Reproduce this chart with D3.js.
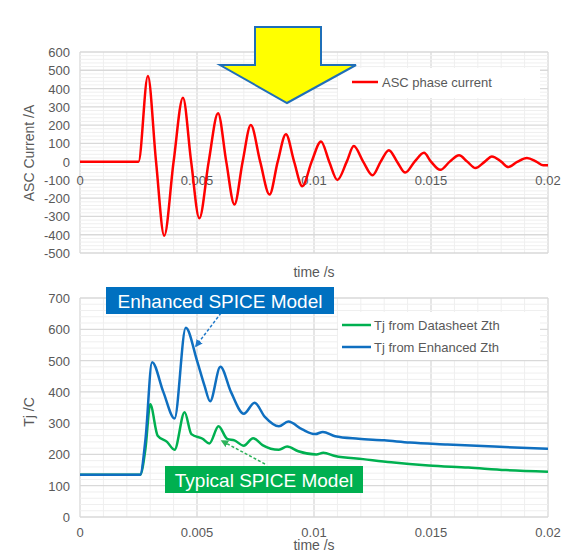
<!DOCTYPE html>
<html><head><meta charset="utf-8">
<script src="https://cdn.jsdelivr.net/npm/d3@7"></script>
<style>body{margin:0;background:#fff}svg{font-family:"Liberation Sans",Arial,sans-serif}</style>
</head><body><div id="chart"></div>
<script>
// [time s, value]
const ascCurrent = [[0,0],[0.0025,0],[0.0029,468],[0.00325,0],[0.0036,-405],[0.0040,0],[0.0044,350],[0.00475,0],[0.0051,-310],[0.0055,0],[0.0059,265],[0.00625,0],[0.0066,-235],[0.00695,0],[0.0073,200],[0.0077,0],[0.0081,-180],[0.00845,0],[0.0088,150],[0.00915,0],[0.0095,-135],[0.0099,0],[0.0103,110],[0.01065,0],[0.0110,-100],[0.0114,0],[0.0117,85],[0.0121,0],[0.0125,-75],[0.01285,0],[0.0132,62],[0.01355,0],[0.0139,-60],[0.0143,0],[0.0147,48],[0.0150,0],[0.0154,-45],[0.0158,0],[0.0162,35],[0.01655,0],[0.0169,-35],[0.0173,0],[0.0176,28],[0.0180,0],[0.0183,-30],[0.0187,0],[0.0191,20],[0.0195,0],[0.0198,-20],[0.02,-20]];
const tjEnhanced = [[0,135],[0.00257,135],[0.0028,250],[0.00308,495],[0.00356,400],[0.00404,315],[0.00452,605],[0.0050,500],[0.00532,420],[0.00556,370],[0.0060,480],[0.00645,400],[0.0070,330],[0.00746,365],[0.0079,320],[0.0085,290],[0.0089,305],[0.0095,280],[0.01005,265],[0.01038,272],[0.0109,258],[0.0119,250],[0.0130,245],[0.0141,238],[0.0157,232],[0.0177,225],[0.02,218]];
const tjDatasheet = [[0,135],[0.00257,135],[0.0028,220],[0.0030,360],[0.00332,260],[0.00372,240],[0.00404,215],[0.00447,335],[0.00476,265],[0.00524,250],[0.00553,235],[0.00592,290],[0.00629,250],[0.0066,245],[0.0070,228],[0.0074,252],[0.0078,230],[0.0085,215],[0.00885,225],[0.00933,210],[0.0101,200],[0.0104,205],[0.0109,195],[0.0121,185],[0.0133,175],[0.0149,165],[0.0166,158],[0.0182,150],[0.02,145]];
const xTicks = [0,0.005,0.01,0.015,0.02];
const topYTicks = [-500,-400,-300,-200,-100,0,100,200,300,400,500,600];
const botYTicks = [0,100,200,300,400,500,600,700];

const svg = d3.select('#chart').append('svg').attr('width',584).attr('height',557);
const grey = '#595959';

function grid(g, x, y, yMin, yMax) {
    g.selectAll('.vm').data(d3.range(0,0.02001,0.001)).enter().append('line')
        .attr('x1',d=>x(d)).attr('x2',d=>x(d)).attr('y1',y(yMin)).attr('y2',y(yMax))
        .attr('stroke',(d,i)=>i%5===0?'#d9d9d9':'#efefef').attr('stroke-width',(d,i)=>i%5===0?1.3:1);
    g.selectAll('.hm').data(d3.range(yMin,yMax+1,20)).enter().append('line')
        .attr('x1',x(0)).attr('x2',x(0.02)).attr('y1',d=>y(d)).attr('y2',d=>y(d))
        .attr('stroke',d=>d%100===0?'#d9d9d9':'#efefef').attr('stroke-width',d=>d%100===0?1.3:1);
}

// ---- top chart
const x1 = d3.scaleLinear().domain([0,0.02]).range([80,548]);
const y1 = d3.scaleLinear().domain([-500,600]).range([253,52]);
const topG = svg.append('g');
grid(topG, x1, y1, -500, 600);
topG.selectAll('.yt').data(topYTicks).enter().append('text')
    .attr('x',70).attr('y',d=>y1(d)+5).attr('text-anchor','end').attr('font-size',13).attr('fill',grey).text(d=>d);
topG.selectAll('.xt').data(xTicks).enter().append('text')
    .attr('x',x1).attr('y',y1(0)+23).attr('text-anchor','middle').attr('font-size',13).attr('fill',grey).text(d=>d);
topG.append('path').datum(ascCurrent).attr('fill','none').attr('stroke','#ff0000').attr('stroke-width',2.5)
    .attr('d',d3.line().x(d=>x1(d[0])).y(d=>y1(d[1])).curve(d3.curveMonotoneX));
topG.append('text').attr('transform','translate(34,153) rotate(-90)').attr('text-anchor','middle')
    .attr('font-size',14).attr('fill',grey).text('ASC Current /A');
topG.append('text').attr('x',314).attr('y',277).attr('text-anchor','middle').attr('font-size',14).attr('fill',grey).text('time /s');
topG.append('rect').attr('x',338).attr('y',68).attr('width',202).attr('height',30).attr('fill','#fff');
topG.append('line').attr('x1',352).attr('x2',378).attr('y1',82).attr('y2',82).attr('stroke','#ff0000').attr('stroke-width',2.5);
topG.append('text').attr('x',382).attr('y',87).attr('font-size',13).attr('fill',grey).text('ASC phase current');
// yellow arrow
topG.append('path').attr('d','M255,27 L321,27 L321,65 L356,65 L287,103 L220,65 L255,65 Z')
    .attr('fill','#ffff00').attr('stroke','#1f6fb8').attr('stroke-width',2);

// ---- bottom chart
const x2 = d3.scaleLinear().domain([0,0.02]).range([80,548]);
const y2 = d3.scaleLinear().domain([0,700]).range([517,298]);
const bot = svg.append('g');
grid(bot, x2, y2, 0, 700);
bot.selectAll('.yt').data(botYTicks).enter().append('text')
    .attr('x',70).attr('y',d=>y2(d)+5).attr('text-anchor','end').attr('font-size',13).attr('fill',grey).text(d=>d);
bot.selectAll('.xt').data(xTicks).enter().append('text')
    .attr('x',x2).attr('y',537).attr('text-anchor','middle').attr('font-size',13).attr('fill',grey).text(d=>d);
const line2 = d3.line().x(d=>x2(d[0])).y(d=>y2(d[1])).curve(d3.curveMonotoneX);
bot.append('path').datum(tjDatasheet).attr('fill','none').attr('stroke','#00b050').attr('stroke-width',2.5).attr('d',line2);
bot.append('path').datum(tjEnhanced).attr('fill','none').attr('stroke','#0f6fc0').attr('stroke-width',2.5).attr('d',line2);
bot.append('text').attr('transform','translate(34,412) rotate(-90)').attr('text-anchor','middle')
    .attr('font-size',14).attr('fill',grey).text('Tj /C');
bot.append('text').attr('x',314).attr('y',550).attr('text-anchor','middle').attr('font-size',14).attr('fill',grey).text('time /s');
bot.append('rect').attr('x',338).attr('y',312).attr('width',202).attr('height',48).attr('fill','#fff');
[['Tj from Datasheet Zth','#00b050',325],['Tj from Enhanced Zth','#0f6fc0',347]].forEach(([t,c,yy])=>{
    bot.append('line').attr('x1',342).attr('x2',371).attr('y1',yy).attr('y2',yy).attr('stroke',c).attr('stroke-width',2.5);
    bot.append('text').attr('x',374).attr('y',yy+5).attr('font-size',13).attr('fill',grey).text(t);
});
// annotations
const defs = svg.append('defs');
[['ab','#1f78c8'],['ag','#2db35a']].forEach(([id,c])=>{
    defs.append('marker').attr('id',id).attr('viewBox','0 0 10 10').attr('refX',8).attr('refY',5)
        .attr('markerWidth',5).attr('markerHeight',5).attr('orient','auto')
        .append('path').attr('d','M0,0 L10,5 L0,10 Z').attr('fill',c);
});
bot.append('line').attr('x1',221).attr('y1',313).attr('x2',196).attr('y2',346).attr('stroke','#1f78c8')
    .attr('stroke-width',1.5).attr('stroke-dasharray','3,2').attr('marker-end','url(#ab)');
bot.append('line').attr('x1',265).attr('y1',464).attr('x2',222).attr('y2',441).attr('stroke','#2db35a')
    .attr('stroke-width',1.5).attr('stroke-dasharray','3,2').attr('marker-end','url(#ag)');
bot.append('rect').attr('x',106).attr('y',287).attr('width',228).attr('height',27).attr('fill','#0070c0');
bot.append('text').attr('x',220).attr('y',308).attr('text-anchor','middle').attr('font-size',19).attr('fill','#fff').text('Enhanced SPICE Model');
bot.append('rect').attr('x',165).attr('y',466).attr('width',198).attr('height',27).attr('fill','#00b050');
bot.append('text').attr('x',264).attr('y',487).attr('text-anchor','middle').attr('font-size',19).attr('fill','#fff').text('Typical SPICE Model');
</script></body></html>
